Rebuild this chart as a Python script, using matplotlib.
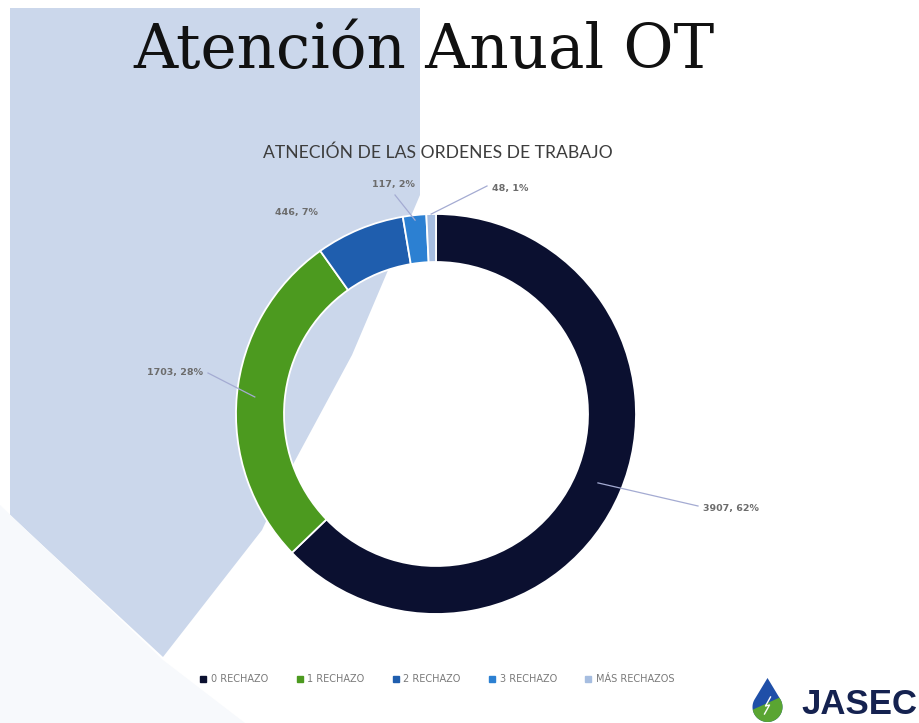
import numpy as np
import matplotlib
matplotlib.use("Agg")
import matplotlib.pyplot as plt
from matplotlib.patches import Polygon

# Data
categories = ["0 RECHAZO", "1 RECHAZO", "2 RECHAZO", "3 RECHAZO", "MÁS RECHAZOS"]
counts = [3907, 1703, 446, 117, 48]
percent_labels = ["62%", "28%", "7%", "2%", "1%"]
colors = ["#0b1030", "#4c9a1f", "#1f5eae", "#2c80d2", "#a6bde0"]

W, H = 919, 723
fig = plt.figure(figsize=(W / 100, H / 100), dpi=100)
fig.patch.set_facecolor("white")
# whole-figure axes in pixel units (y measured from the bottom)
ax = fig.add_axes([0, 0, 1, 1])


def py(y):
    return H - y


# slide background shapes
bg = Polygon([(10, py(8)), (420, py(8)), (420, py(195)), (352, py(355)),
              (290, py(470)), (262, py(530)), (163, py(657)), (10, py(515))],
             closed=True, facecolor="#cbd7eb", edgecolor="none", zorder=0)
ax.add_patch(bg)
bg2 = Polygon([(0, py(505)), (163, py(660)), (245, py(723)), (0, py(723))],
              closed=True, facecolor="#f7f9fc", edgecolor="none", zorder=0)
ax.add_patch(bg2)

# donut
cx, cy, R = 436, py(414), 200
wedges, _ = ax.pie(counts, colors=colors, startangle=90, counterclock=False,
                   center=(cx, cy), radius=R,
                   wedgeprops=dict(width=48, edgecolor="white", linewidth=1.3))
for w in wedges:
    w.set_zorder(2)

ax.set_xlim(0, W)
ax.set_ylim(0, H)
ax.set_aspect("auto")
ax.axis("off")

# data labels: text position, leader end (pixels, image coords)
label_pos = [(731, 508), (175, 373), (296, 212), (393, 185), (510, 188)]
leader_end = [(698, 506), (208, 373), None, (395, 195), (487, 186)]
leader_rad = [176, 182, None, 195, 200]
for i, w in enumerate(wedges):
    txt = f"{counts[i]}, {percent_labels[i]}"
    tx, ty = label_pos[i]
    ax.text(tx, py(ty), txt, ha="center", va="center", fontsize=6.8,
            fontweight="bold", color="#6c6c6c", family="DejaVu Sans", zorder=3)
    if leader_end[i] is not None:
        mid = np.deg2rad((w.theta1 + w.theta2) / 2)
        sx = cx + leader_rad[i] * np.cos(mid)
        sy = cy + leader_rad[i] * np.sin(mid)
        ex, ey = leader_end[i]
        ax.plot([ex, sx], [py(ey), sy], color="#a4abd2", lw=0.9, zorder=3)

# titles
fig.text(0.461, py(68) / H, "Atención Anual OT", ha="center", va="baseline",
         fontsize=44, family="DejaVu Serif", color="#111111")
fig.text(0.476, py(153) / H, "ATNECIÓN DE LAS ORDENES DE TRABAJO",
         ha="center", va="center", fontsize=12.6, family="Lato",
         color="#3d3d3d")

# legend
handles = [plt.Line2D([], [], marker="s", ls="", color=c, markersize=4)
           for c in colors]
leg = fig.legend(handles, categories, loc="center", ncol=5,
                 bbox_to_anchor=(0.476, py(679) / H), frameon=False,
                 fontsize=7.0, handlelength=0.6, handletextpad=0.5,
                 columnspacing=2.9)
for t in leg.get_texts():
    t.set_color("#7a7a7a")

# JASEC logo
dcx, dcy, dr = 767.5, py(707), 15
apex = (dcx, py(678))
angs = np.deg2rad(np.linspace(146, 394, 60))
pts = [(dcx + dr * np.cos(a), dcy + dr * np.sin(a)) for a in angs] + [apex]
drop = Polygon(pts, closed=True, facecolor="#1f4fa8", edgecolor="none", zorder=4)
ax.add_patch(drop)
green = Polygon([(dcx - 20, py(712)), (dcx + 20, py(694)), (dcx + 20, py(730)),
                 (dcx - 20, py(730))], closed=True, facecolor="#5aa532",
                edgecolor="none", zorder=5)
ax.add_patch(green)
green.set_clip_path(drop)
ax.plot([dcx + 3, dcx - 2, dcx + 2, dcx - 3],
        [py(697), py(706), py(705), py(714)], color="white", lw=1, zorder=6)
ax.text(801, py(705), "JASEC", ha="left", va="center", fontsize=25,
        fontweight="bold", family="Liberation Sans", color="#152250", zorder=6)

fig.savefig("out.png", dpi=100)
